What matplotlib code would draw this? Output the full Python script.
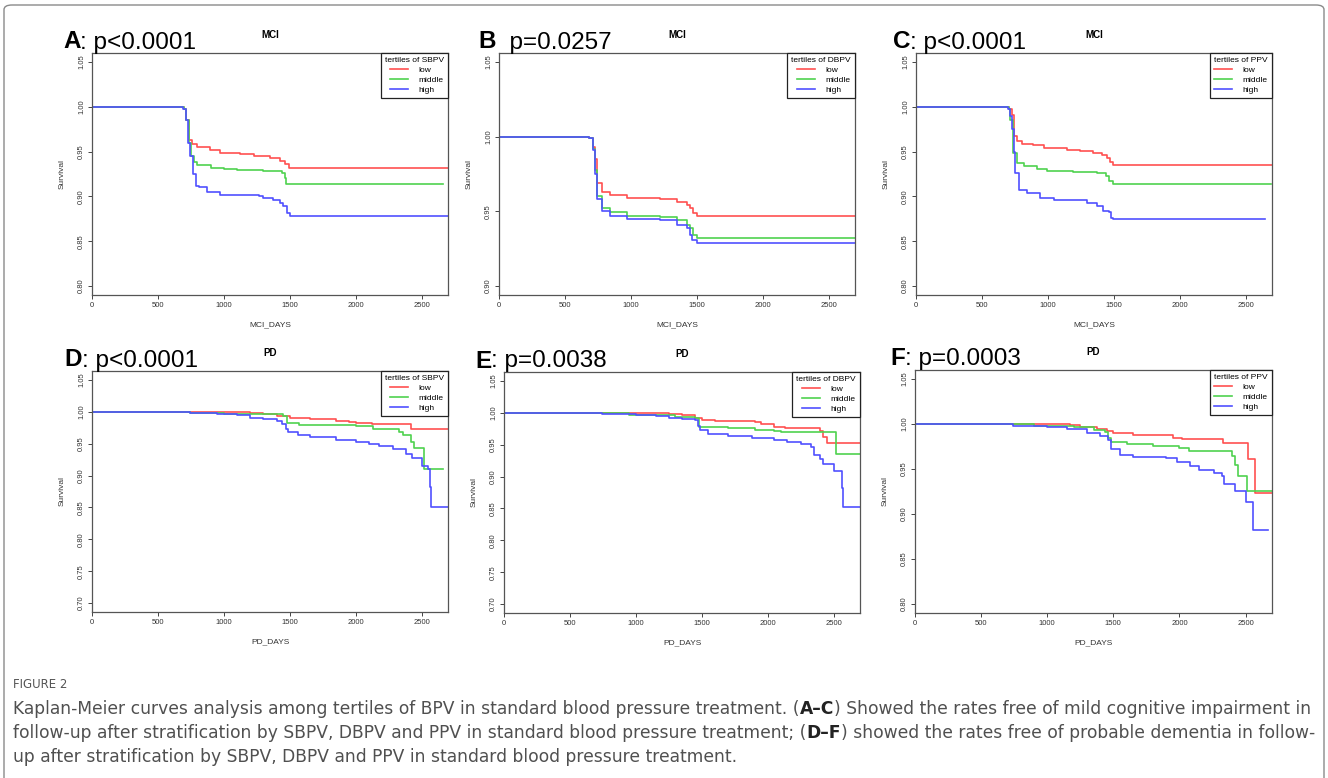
import numpy as np
import matplotlib
matplotlib.use("Agg")
import matplotlib.pyplot as plt
from matplotlib.patches import FancyBboxPatch

plt.rcParams['font.family'] = ['Liberation Sans', 'DejaVu Sans']

# ---------------- data ----------------
groups = ['low', 'middle', 'high']
colors = ['#ff5050', '#4fd24f', '#5050ff']

# A: MCI by SBPV
a_low_t = [0, 694, 715, 737, 760, 795, 896, 972, 1124, 1225, 1351, 1427, 1465, 1497, 2700]
a_low_s = [1.0, 0.998, 0.985, 0.963, 0.958, 0.955, 0.952, 0.948, 0.947, 0.945, 0.943, 0.940, 0.936, 0.932, 0.932]
a_mid_t = [0, 694, 715, 735, 750, 775, 800, 900, 1000, 1100, 1300, 1440, 1460, 1475, 2660]
a_mid_s = [1.0, 0.998, 0.985, 0.960, 0.945, 0.938, 0.935, 0.932, 0.931, 0.929, 0.928, 0.926, 0.921, 0.914, 0.914]
a_high_t = [0, 690, 710, 730, 745, 765, 790, 808, 871, 972, 1270, 1300, 1376, 1427, 1452, 1477, 1503, 2700]
a_high_s = [1.0, 0.997, 0.985, 0.960, 0.945, 0.925, 0.912, 0.910, 0.905, 0.902, 0.901, 0.898, 0.896, 0.893, 0.889, 0.882, 0.878, 0.878]

# B: MCI by DBPV
b_low_t = [0, 686, 710, 729, 746, 779, 843, 969, 1222, 1349, 1425, 1450, 1468, 1500, 2700]
b_low_s = [1.0, 0.999, 0.993, 0.985, 0.969, 0.963, 0.961, 0.959, 0.958, 0.956, 0.954, 0.952, 0.949, 0.947, 0.947]
b_mid_t = [0, 686, 710, 730, 741, 779, 843, 969, 1222, 1349, 1425, 1450, 1468, 1500, 2700]
b_mid_s = [1.0, 0.999, 0.992, 0.978, 0.960, 0.952, 0.9495, 0.947, 0.946, 0.944, 0.941, 0.939, 0.934, 0.932, 0.932]
b_high_t = [0, 686, 710, 730, 741, 779, 843, 969, 1222, 1349, 1425, 1450, 1465, 1500, 2700]
b_high_s = [1.0, 0.999, 0.991, 0.975, 0.958, 0.950, 0.947, 0.945, 0.944, 0.941, 0.939, 0.934, 0.931, 0.929, 0.929]

# C: MCI by PPV
c_low_t = [0, 702, 727, 740, 765, 803, 891, 967, 1144, 1245, 1346, 1409, 1447, 1472, 1497, 2700]
c_low_s = [1.0, 0.998, 0.991, 0.967, 0.962, 0.959, 0.957, 0.954, 0.952, 0.951, 0.9485, 0.946, 0.9425, 0.938, 0.935, 0.935]
c_mid_t = [0, 702, 715, 735, 765, 816, 917, 992, 1194, 1371, 1442, 1460, 1497, 2692]
c_mid_s = [1.0, 0.998, 0.985, 0.9485, 0.937, 0.934, 0.931, 0.928, 0.927, 0.926, 0.923, 0.917, 0.914, 0.914]
c_high_t = [0, 700, 715, 727, 740, 753, 778, 841, 942, 1043, 1220, 1295, 1371, 1422, 1460, 1477, 1497, 2646]
c_high_s = [1.0, 0.997, 0.990, 0.975, 0.950, 0.926, 0.9075, 0.904, 0.898, 0.896, 0.8955, 0.8925, 0.889, 0.884, 0.883, 0.876, 0.875, 0.875]

# D: PD by SBPV
d_low_t = [0, 734, 1150, 1200, 1300, 1400, 1500, 1650, 1850, 1950, 2000, 2120, 2420, 2700]
d_low_s = [1.0, 0.9995, 0.999, 0.998, 0.996, 0.993, 0.990, 0.988, 0.986, 0.984, 0.983, 0.981, 0.973, 0.973]
d_mid_t = [0, 740, 1000, 1250, 1450, 1480, 1570, 1900, 2000, 2130, 2330, 2360, 2420, 2440, 2520, 2665]
d_mid_s = [1.0, 0.998, 0.997, 0.996, 0.993, 0.982, 0.980, 0.979, 0.977, 0.973, 0.968, 0.963, 0.953, 0.943, 0.911, 0.911]
d_high_t = [0, 740, 950, 1100, 1200, 1300, 1400, 1440, 1470, 1490, 1560, 1650, 1850, 2000, 2100, 2180,
            2280, 2380, 2430, 2500, 2550, 2565, 2570, 2700]
d_high_s = [1.0, 0.998, 0.996, 0.995, 0.991, 0.988, 0.986, 0.981, 0.973, 0.969, 0.963, 0.960, 0.956, 0.953, 0.949, 0.946,
            0.942, 0.934, 0.928, 0.915, 0.911, 0.882, 0.850, 0.850]

# E: PD by DBPV
e_low_t = [0, 750, 1100, 1250, 1350, 1450, 1500, 1600, 1900, 1950, 2050, 2130, 2400, 2420, 2450, 2700]
e_low_s = [1.0, 0.9995, 0.999, 0.998, 0.996, 0.992, 0.989, 0.9865, 0.985, 0.983, 0.978, 0.9755, 0.971, 0.9615, 0.9525, 0.9525]
e_mid_t = [0, 950, 1150, 1300, 1450, 1480, 1700, 1900, 2050, 2100, 2520, 2700]
e_mid_s = [1.0, 0.997, 0.996, 0.994, 0.992, 0.978, 0.976, 0.9735, 0.971, 0.970, 0.935, 0.935]
e_high_t = [0, 740, 1000, 1150, 1250, 1350, 1450, 1470, 1490, 1550, 1700, 1880, 2050, 2150, 2250, 2330,
            2350, 2400, 2420, 2500, 2565, 2570, 2700]
e_high_s = [1.0, 0.998, 0.997, 0.995, 0.992, 0.990, 0.988, 0.980, 0.973, 0.967, 0.964, 0.960, 0.957, 0.954, 0.951, 0.946,
            0.934, 0.928, 0.920, 0.908, 0.882, 0.852, 0.852]

# F: PD by PPV
f_low_t = [0, 1150, 1170, 1250, 1380, 1450, 1500, 1650, 1950, 2020, 2330, 2520, 2570, 2700]
f_low_s = [1.0, 0.9995, 0.999, 0.997, 0.995, 0.992, 0.990, 0.988, 0.985, 0.983, 0.9785, 0.961, 0.9235, 0.9235]
f_mid_t = [0, 900, 1200, 1350, 1440, 1460, 1480, 1600, 1800, 2000, 2070, 2400, 2420, 2440, 2510, 2700]
f_mid_s = [1.0, 0.998, 0.997, 0.9935, 0.991, 0.985, 0.980, 0.978, 0.9755, 0.973, 0.970, 0.964, 0.954, 0.9425, 0.926, 0.926]
f_high_t = [0, 740, 1000, 1150, 1300, 1400, 1460, 1480, 1550, 1650, 1900, 1980, 2080, 2150, 2260, 2320,
            2340, 2420, 2500, 2560, 2667]
f_high_s = [1.0, 0.998, 0.997, 0.995, 0.990, 0.987, 0.982, 0.972, 0.9655, 0.963, 0.962, 0.958, 0.953, 0.949, 0.946, 0.9425,
            0.933, 0.926, 0.913, 0.8825, 0.8825]

panels = [
    ('A', ': p<0.0001', 'MCI', 'MCI_DAYS', 'tertiles of SBPV', [(a_low_t, a_low_s), (a_mid_t, a_mid_s), (a_high_t, a_high_s)], [0.80, 0.85, 0.90, 0.95, 1.00, 1.05]),
    ('B', '  p=0.0257', 'MCI', 'MCI_DAYS', 'tertiles of DBPV', [(b_low_t, b_low_s), (b_mid_t, b_mid_s), (b_high_t, b_high_s)], [0.90, 0.95, 1.00, 1.05]),
    ('C', ': p<0.0001', 'MCI', 'MCI_DAYS', 'tertiles of PPV', [(c_low_t, c_low_s), (c_mid_t, c_mid_s), (c_high_t, c_high_s)], [0.80, 0.85, 0.90, 0.95, 1.00, 1.05]),
    ('D', ': p<0.0001', 'PD', 'PD_DAYS', 'tertiles of SBPV', [(d_low_t, d_low_s), (d_mid_t, d_mid_s), (d_high_t, d_high_s)], [0.70, 0.75, 0.80, 0.85, 0.90, 0.95, 1.00, 1.05]),
    ('E', ': p=0.0038', 'PD', 'PD_DAYS', 'tertiles of DBPV', [(e_low_t, e_low_s), (e_mid_t, e_mid_s), (e_high_t, e_high_s)], [0.70, 0.75, 0.80, 0.85, 0.90, 0.95, 1.00, 1.05]),
    ('F', ': p=0.0003', 'PD', 'PD_DAYS', 'tertiles of PPV', [(f_low_t, f_low_s), (f_mid_t, f_mid_s), (f_high_t, f_high_s)], [0.80, 0.85, 0.90, 0.95, 1.00, 1.05]),
]
xticks = [0, 500, 1000, 1500, 2000, 2500]

# caption pieces: (text, bold)
caption = [
    [('Kaplan-Meier curves analysis among tertiles of BPV in standard blood pressure treatment. (', False),
     ('A\u2013C', True), (') Showed the rates free of mild cognitive impairment in', False)],
    [('follow-up after stratification by SBPV, DBPV and PPV in standard blood pressure treatment; (', False),
     ('D\u2013F', True), (') showed the rates free of probable dementia in follow-', False)],
    [('up after stratification by SBPV, DBPV and PPV in standard blood pressure treatment.', False)],
]

# ---------------- layout (pixel boxes: left, top, right, bottom) ----------------
W, H = 1328, 778
boxes = [(92, 53, 448, 295), (499, 53, 855, 295), (916, 53, 1272, 295),
         (92, 371, 448, 612), (504, 372, 860, 613), (915, 370, 1272, 613)]
label_x = [63, 478, 893, 64, 475, 890]

fig = plt.figure(figsize=(W / 100, H / 100), dpi=100)

frame = FancyBboxPatch((4 / W, -0.05), 1320 / W, 1.05 - 5 / H, boxstyle='round,pad=0,rounding_size=0.006',
                       transform=fig.transFigure, fill=False, edgecolor='#8a8a8a', linewidth=1.0)
fig.patches.append(frame)

for i, (let, ptxt, ttl, xlab, legt, curves, yt) in enumerate(panels):
    l, t, r, b = boxes[i]
    ax = fig.add_axes([l / W, 1 - b / H, (r - l) / W, (b - t) / H])
    for (tt, ss), c, g in zip(curves, colors, groups):
        ax.plot(tt, ss, drawstyle='steps-post', color=c, lw=1.2, label=g)
    pad = (yt[-1] - yt[0]) * 0.04
    ax.set_ylim(yt[0] - pad, yt[-1] + pad)
    ax.set_xlim(0, 2700)
    ax.set_xticks(xticks)
    ax.set_yticks(yt)
    ax.set_yticklabels(['%.2f' % v for v in yt], rotation=90, va='center')
    ax.tick_params(labelsize=5.5, length=3, width=0.7, color='#444444', labelcolor='#333333', pad=2)
    for sp in ax.spines.values():
        sp.set_color('#555555')
        sp.set_linewidth(0.9)
    ax.set_xlabel(xlab, fontsize=6, color='#333333', labelpad=9)
    ax.set_ylabel('Survival', fontsize=6, color='#333333', labelpad=9)
    ax.set_title(ttl, fontsize=7, fontweight='bold', pad=11)
    leg = ax.legend(title=legt, loc='upper right', borderaxespad=0, fontsize=6, title_fontsize=6,
                    fancybox=False, edgecolor='#222222', framealpha=1, handlelength=2.2,
                    handletextpad=1.3, labelspacing=0.25, borderpad=0.5)
    leg.get_frame().set_linewidth(0.9)
    leg._legend_box.align = 'right'

    # panel label: bold letter + p value
    ly = t - 11
    tl = fig.text(label_x[i] / W, 1 - ly / H, let, fontsize=17.5, fontweight='bold', va='center', ha='left')
    fig.canvas.draw()
    ax.annotate(ptxt, xy=(1, 0), xycoords=tl, fontsize=17.5, va='bottom', ha='left', annotation_clip=False)

fig.text(13 / W, 1 - 685 / H, 'FIGURE 2', fontsize=8.5, color='#555555', family='DejaVu Sans', va='center')

renderer = fig.canvas.get_renderer()
for k, pieces in enumerate(caption):
    x = 13
    y = 1 - (714 + 24 * k) / H
    for txt, bold in pieces:
        tx = fig.text(x / W, y, txt, fontsize=12.3, color='#222222' if bold else '#505050',
                      family='DejaVu Sans', fontweight='bold' if bold else 'normal', va='baseline')
        x += tx.get_window_extent(renderer).width

fig.savefig('out.png', dpi=100)
